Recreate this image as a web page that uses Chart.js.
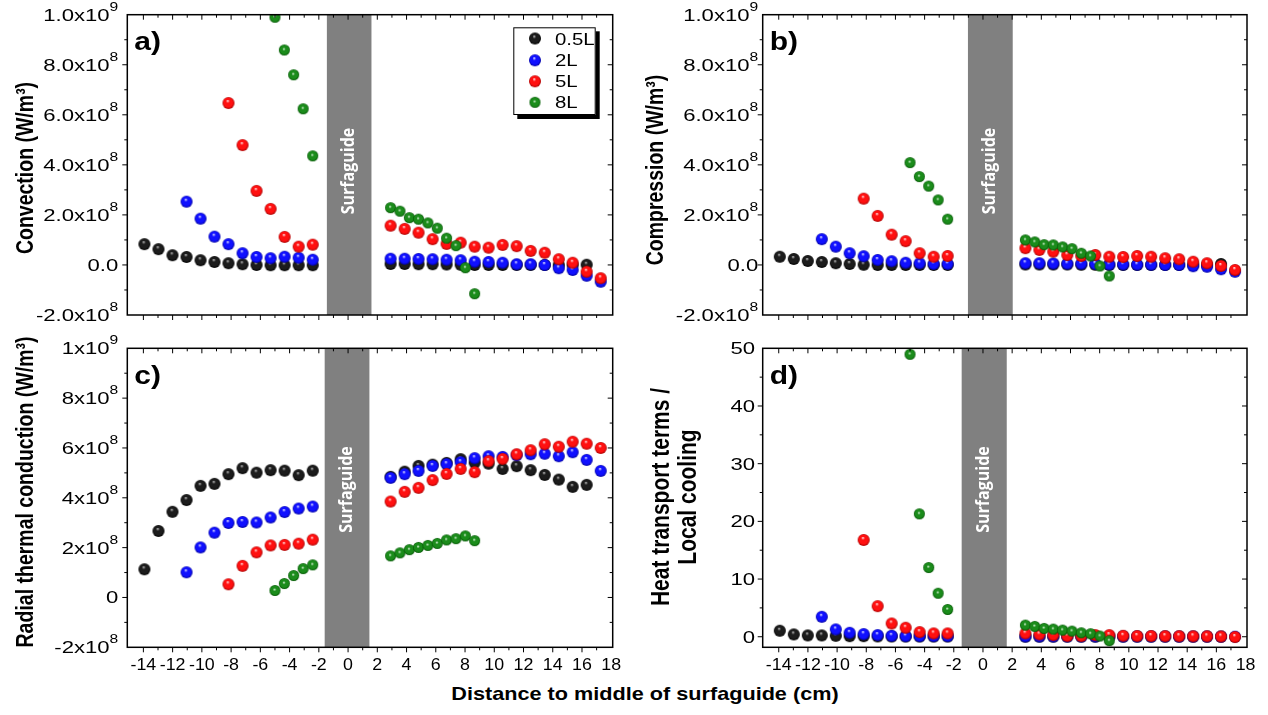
<!DOCTYPE html>
<html>
<head>
<meta charset="utf-8">
<script src="https://cdn.jsdelivr.net/npm/chart.js@4.4.1/dist/chart.umd.min.js"></script>
<style>
    html, body { margin: 0; padding: 0; background: #fff; }
    #wrap { position: relative; width: 1268px; height: 715px; overflow: hidden; }
    canvas { position: absolute; }
    #xtitle {
        position: absolute; left: 645px; top: 683px; line-height: 20px;
        font: bold 18.5px "Liberation Sans", Arial, sans-serif; white-space: nowrap;
        transform: translateX(-50%) scaleX(1.17);
    }
</style>
</head>
<body>
<div id="wrap">
    <canvas id="panelA" width="634" height="330" style="left:0;top:0"></canvas>
    <canvas id="panelB" width="634" height="330" style="left:634px;top:0"></canvas>
    <canvas id="panelC" width="634" height="350" style="left:0;top:330px"></canvas>
    <canvas id="panelD" width="634" height="350" style="left:634px;top:330px"></canvas>
    <div id="xtitle">Distance to middle of surfaguide (cm)</div>
</div>
<script>
// positions (cm) of the measurement points for each flow
const xBlack = [-13.93, -12.97, -12.01, -11.05, -10.09, -9.14, -8.18, -7.22, -6.26, -5.30, -4.34, -3.38, -2.42,
    2.91, 3.87, 4.82, 5.78, 6.74, 7.70, 8.66, 9.61, 10.57, 11.53, 12.49, 13.45, 14.41, 15.36, 16.32];
const xBlue = [-11.05, -10.09, -9.14, -8.18, -7.22, -6.26, -5.30, -4.34, -3.38, -2.42,
    2.91, 3.87, 4.82, 5.78, 6.74, 7.70, 8.66, 9.61, 10.57, 11.53, 12.49, 13.45, 14.41, 15.36, 16.32, 17.28];
const xRed = [-8.18, -7.22, -6.26, -5.30, -4.34, -3.38, -2.42,
    2.91, 3.87, 4.82, 5.78, 6.74, 7.70, 8.66, 9.61, 10.57, 11.53, 12.49, 13.45, 14.41, 15.36, 16.32, 17.28];
const xGreen = [-5.00, -4.36, -3.72, -3.07, -2.42,
    2.91, 3.55, 4.19, 4.82, 5.46, 6.10, 6.74, 7.38, 8.02, 8.66];

const seriesNames = ['0.5L', '2L', '5L', '8L'];

// a) convection
const convBlack = [8.3e7, 6.3e7, 3.9e7, 3.2e7, 1.9e7, 1.2e7, 7e6, 3e6, 0, -1e6, -1e6, -1e6, -1e6,
    4e6, 4e6, 3e6, 3e6, 2e6, 1e6, 0, 0, 0, 0, 0, 0, 0, 0, 1e6];
const convBlue = [2.53e8, 1.85e8, 1.13e8, 8.3e7, 4.7e7, 3.2e7, 2.7e7, 3.3e7, 2.9e7, 2.1e7,
    2.5e7, 2.5e7, 2.4e7, 2.3e7, 2.1e7, 1.9e7, 1.3e7, 1.2e7, 9e6, 3e6, 3e6, 0, -1.3e7, -2.0e7, -4.3e7, -6.7e7];
const convRed = [6.47e8, 4.79e8, 2.96e8, 2.24e8, 1.12e8, 7.3e7, 8.1e7,
    1.57e8, 1.44e8, 1.29e8, 1.03e8, 8.4e7, 8.9e7, 7.3e7, 6.9e7, 8.0e7, 7.5e7, 5.6e7, 4.9e7, 2.3e7, 9e6, -2.7e7, -5.3e7];
const convGreen = [9.9e8, 8.59e8, 7.6e8, 6.24e8, 4.36e8,
    2.29e8, 2.15e8, 1.89e8, 1.83e8, 1.68e8, 1.47e8, 1.07e8, 7.7e7, -1.1e7, -1.15e8];

// b) compression
const compBlack = [3.3e7, 2.4e7, 1.6e7, 1.2e7, 7e6, 4e6, 1e6, 0, 0, 0, 0, 0, 0,
    2e6, 2e6, 2e6, 2e6, 1e6, 1e6, 0, 0, 0, 0, 0, 0, 0, 0, 4e6];
const compBlue = [1.03e8, 7.3e7, 4.7e7, 3.5e7, 2.0e7, 1.5e7, 9e6, 7e6, 4e6, 4e6,
    7e6, 7e6, 6e6, 5e6, 5e6, 4e6, 2e6, 2e6, 1e6, 1e6, 0, 0, -5e6, -7e6, -1.7e7, -2.7e7];
const compRed = [2.65e8, 1.96e8, 1.21e8, 9.5e7, 4.7e7, 3.3e7, 3.6e7,
    6.7e7, 6.0e7, 5.3e7, 4.0e7, 3.6e7, 4.0e7, 3.3e7, 3.2e7, 3.6e7, 3.3e7, 2.7e7, 2.3e7, 1.3e7, 7e6, -4e6, -2.0e7];
const compGreen = [4.09e8, 3.53e8, 3.15e8, 2.6e8, 1.83e8,
    1.0e8, 9.2e7, 8.1e7, 8.0e7, 7.2e7, 6.5e7, 4.7e7, 3.6e7, -4e6, -4.4e7];

// c) radial thermal conduction
const condBlack = [1.13e8, 2.67e8, 3.44e8, 3.91e8, 4.48e8, 4.56e8, 4.95e8, 5.19e8, 5.01e8, 5.11e8, 5.09e8, 4.91e8, 5.09e8,
    4.84e8, 5.05e8, 5.28e8, 5.33e8, 5.40e8, 5.55e8, 5.41e8, 5.37e8, 5.16e8, 5.27e8, 5.11e8, 4.92e8, 4.73e8, 4.44e8, 4.52e8];
const condBlue = [1.01e8, 2.01e8, 2.60e8, 2.99e8, 3.03e8, 3.01e8, 3.21e8, 3.43e8, 3.57e8, 3.65e8,
    4.80e8, 4.95e8, 5.08e8, 5.28e8, 5.35e8, 5.43e8, 5.59e8, 5.67e8, 5.64e8, 5.71e8, 5.75e8, 5.77e8, 5.67e8, 5.83e8, 5.52e8, 5.08e8];
const condRed = [5.3e7, 1.27e8, 1.81e8, 2.09e8, 2.11e8, 2.16e8, 2.32e8,
    3.85e8, 4.24e8, 4.40e8, 4.71e8, 4.96e8, 5.16e8, 5.03e8, 5.47e8, 5.56e8, 5.75e8, 5.91e8, 6.15e8, 6.05e8, 6.25e8, 6.17e8, 6.00e8];
const condGreen = [2.8e7, 5.6e7, 8.8e7, 1.16e8, 1.31e8,
    1.67e8, 1.79e8, 1.92e8, 2.01e8, 2.09e8, 2.17e8, 2.31e8, 2.36e8, 2.47e8, 2.28e8];

// d) heat transport terms / local cooling
const ratioBlack = [1.04, 0.4, 0.23, 0.23, 0.17, 0.1, 0.1, 0.06, 0.05, 0.05, 0.05, 0.05, 0.05,
    0.03, 0.03, 0.03, 0.03, 0.03, 0.03, 0.03, 0.03, 0.03, 0.03, 0.03, 0.03, 0.03, 0.03, 0.03];
const ratioBlue = [3.46, 1.27, 0.69, 0.46, 0.29, 0.17, 0.1, 0.1, 0.1, 0.1,
    0.05, 0.05, 0.05, 0.05, 0.05, 0.05, 0.04, 0.04, 0.04, 0.04, 0.04, 0.03, 0.03, 0.03, 0.02, 0.0];
const ratioRed = [16.78, 5.3, 2.3, 1.56, 0.81, 0.58, 0.58,
    0.58, 0.4, 0.29, 0.12, 0.12, 0.29, 0.29, 0.17, 0.12, 0.12, 0.1, 0.1, 0.08, 0.08, 0.05, -0.05];
const ratioGreen = [48.96, 21.3, 12.0, 7.55, 4.73,
    2.02, 1.79, 1.44, 1.33, 1.15, 0.98, 0.69, 0.52, 0.12, -0.69];

// axes
const xTicks = [-14, -12, -10, -8, -6, -4, -2, 0, 2, 4, 6, 8, 10, 12, 14, 16, 18];
const yTicksSci = [-2e8, 0, 2e8, 4e8, 6e8, 8e8, 1e9];
const yLabelsAB = ['-2.0x10^8', '0.0', '2.0x10^8', '4.0x10^8', '6.0x10^8', '8.0x10^8', '1.0x10^9'];
const yLabelsC = ['-2x10^8', '0', '2x10^8', '4x10^8', '6x10^8', '8x10^8', '1x10^9'];
const yTicksD = [0, 10, 20, 30, 40, 50];
const yLabelsD = ['0', '10', '20', '30', '40', '50'];

const SX = 1.3;  // the original figure is stretched sideways
const FONT = '"Liberation Sans", Arial, sans-serif';

function sphere(r, hi, mid, dark, hx, hy) {
    const c = document.createElement('canvas');
    c.width = c.height = 2 * r + 2;
    const g = c.getContext('2d');
    const cx = r + 1, cy = r + 1;
    const grad = g.createRadialGradient(cx + hx * r, cy + hy * r, 0, cx, cy, r);
    grad.addColorStop(0, hi);
    grad.addColorStop(0.3, mid);
    grad.addColorStop(0.75, mid);
    grad.addColorStop(1, dark);
    g.fillStyle = grad;
    g.beginPath();
    g.arc(cx, cy, r, 0, Math.PI * 2);
    g.fill();
    return c;
}

const balls = [
    sphere(6, '#d0d0d0', '#1c1c1c', '#000000', -0.15, -0.4),
    sphere(6, '#ffffff', '#1010ff', '#0000a0', -0.15, -0.4),
    sphere(6, '#ffffff', '#ff1010', '#a80000', -0.15, -0.4),
    sphere(5.5, '#f0fff0', '#1b8c1b', '#005400', -0.1, -0.2)
];

function text(ctx, s, x, y, font, o = {}) {
    ctx.save();
    ctx.translate(x, y);
    ctx.scale(o.sx || SX, 1);
    if (o.rot) ctx.rotate(o.rot);
    ctx.font = font;
    ctx.textAlign = o.align || 'center';
    ctx.textBaseline = o.base || 'middle';
    ctx.fillStyle = o.color || '#000';
    ctx.fillText(s, 0, 0);
    ctx.restore();
}

// right aligned tick label, "^" starts the exponent
function sciLabel(ctx, str, right, y) {
    const [base, sup] = str.split('^');
    ctx.font = '17px ' + FONT;
    const bw = ctx.measureText(base).width * SX;
    let sw = 0;
    if (sup) {
        ctx.font = '12px ' + FONT;
        sw = ctx.measureText(sup).width * SX;
    }
    const x0 = right - bw - sw;
    text(ctx, base, x0, y + 6, '17px ' + FONT, { align: 'left', base: 'alphabetic' });
    if (sup) text(ctx, sup, x0 + bw, y - 4, '12px ' + FONT, { align: 'left', base: 'alphabetic' });
}

function midpoints(arr) {
    const out = [];
    for (let i = 0; i < arr.length - 1; i++) out.push((arr[i] + arr[i + 1]) / 2);
    return out;
}

const panelPlugin = {
    id: 'panelDecor',
    beforeDatasetsDraw(chart) {
        const p = chart.options.plugins.panelDecor;
        const { ctx, chartArea: a, scales: { x } } = chart;
        const x0 = x.getPixelForValue(p.band[0]);
        const x1 = x.getPixelForValue(p.band[1]);
        ctx.save();
        ctx.fillStyle = '#808080';
        ctx.fillRect(x0, a.top, x1 - x0, a.bottom - a.top);
        ctx.restore();
        text(ctx, 'Surfaguide', (x0 + x1) / 2, p.bandTextY, 'bold 16px "Open Sans", sans-serif',
            { rot: -Math.PI / 2, color: '#fff', sx: 1.1 });
    },
    afterDraw(chart) {
        const p = chart.options.plugins.panelDecor;
        const { ctx, chartArea: a, scales: { x, y } } = chart;
        ctx.save();
        ctx.strokeStyle = '#000';
        ctx.lineWidth = 1;
        ctx.beginPath();
        const xMinor = midpoints(xTicks).concat([xTicks[0] - 1]);
        const yMinor = midpoints(p.yTicks);
        const tickX = (v, len) => {
            const px = x.getPixelForValue(v);
            if (px < a.left + 2 || px > a.right - 2) return;
            ctx.moveTo(px, a.bottom); ctx.lineTo(px, a.bottom + len);
            ctx.moveTo(px, a.top); ctx.lineTo(px, a.top + len);
        };
        const tickY = (v, len) => {
            const py = y.getPixelForValue(v);
            if (py < a.top + 2 || py > a.bottom - 2) return;
            ctx.moveTo(a.left, py); ctx.lineTo(a.left - len, py);
            ctx.moveTo(a.right, py); ctx.lineTo(a.right - len, py);
        };
        xTicks.forEach(v => tickX(v, 5));
        xMinor.forEach(v => tickX(v, 3));
        p.yTicks.forEach(v => tickY(v, 5));
        yMinor.forEach(v => tickY(v, 3));
        ctx.stroke();
        ctx.lineWidth = 1.5;
        ctx.strokeRect(a.left, a.top, a.right - a.left, a.bottom - a.top);
        ctx.restore();

        p.yTicks.forEach((v, i) => sciLabel(ctx, p.yLabels[i], a.left - p.labelGap, y.getPixelForValue(v)));
        if (p.xLabels) {
            xTicks.forEach(v => text(ctx, String(v), x.getPixelForValue(v), a.bottom + 22.7,
                '16.5px ' + FONT, { base: 'alphabetic', sx: 1.08 }));
        }

        text(ctx, p.letter, a.left + 7, a.top + 35.5, 'bold 25px ' + FONT, { align: 'left', base: 'alphabetic', sx: 1.2 });

        p.yTitle.forEach((line, i) => text(ctx, line, p.yTitleX[i], p.yTitleY, 'bold ' + p.yTitleSize + 'px ' + FONT,
            { rot: -Math.PI / 2, sx: 1.25 }));

        if (p.legend) {
            const L = { x: 513.3, y: 27.3, w: 82.4, h: 87.7 };
            ctx.save();
            ctx.fillStyle = '#000';
            ctx.fillRect(L.x + 4, L.y + 4, L.w, L.h);
            ctx.fillStyle = '#fff';
            ctx.fillRect(L.x, L.y, L.w, L.h);
            ctx.lineWidth = 1;
            ctx.strokeRect(L.x + 0.5, L.y + 0.5, L.w - 1, L.h - 1);
            ctx.restore();
            const rows = [38.5, 60.3, 81.3, 102.3];
            seriesNames.forEach((name, i) => {
                const b = balls[i];
                ctx.drawImage(b, 535 - b.width / 2, rows[i] - b.height / 2);
                text(ctx, name, 555, rows[i] + 6, '17px ' + FONT, { align: 'left', base: 'alphabetic', sx: 1.2 });
            });
        }
    }
};

function pts(xs, ys) {
    return ys.map((v, i) => ({ x: xs[i], y: v }));
}

function makePanel(id, cfg) {
    const xs = [xBlack, xBlue, xRed, xGreen];
    const datasets = cfg.series.map((ys, i) => ({
        label: seriesNames[i],
        data: pts(xs[i], ys),
        pointStyle: balls[i],
        pointRadius: 6,
        order: 4 - i
    }));
    return new Chart(document.getElementById(id), {
        type: 'scatter',
        data: { datasets: datasets },
        options: {
            responsive: false,
            animation: false,
            events: [],
            layout: { padding: cfg.padding },
            scales: {
                x: { type: 'linear', display: false, min: -15.1, max: 18.1 },
                y: { type: 'linear', display: false, min: cfg.yMin, max: cfg.yMax }
            },
            plugins: {
                legend: { display: false },
                tooltip: { enabled: false },
                panelDecor: cfg.decor
            }
        },
        plugins: [panelPlugin]
    });
}

makePanel('panelA', {
    series: [convBlack, convBlue, convRed, convGreen],
    padding: { left: 127.3, right: 21.3, top: 14.7, bottom: 15 },
    yMin: -2e8, yMax: 1e9,
    decor: {
        band: [-1.45, 1.6], bandTextY: 171, letter: 'a)',
        yTicks: yTicksSci, yLabels: yLabelsAB, labelGap: 9, xLabels: false,
        yTitle: ['Convection (W/m³)'], yTitleX: [26], yTitleY: 168, yTitleSize: 19.5, legend: true
    }
});

makePanel('panelB', {
    series: [compBlack, compBlue, compRed, compGreen],
    padding: { left: 128.7, right: 21, top: 14.7, bottom: 15 },
    yMin: -2e8, yMax: 1e9,
    decor: {
        band: [-1.03, 2.04], bandTextY: 171, letter: 'b)',
        yTicks: yTicksSci, yLabels: yLabelsAB, labelGap: 4.5, xLabels: false,
        yTitle: ['Compression (W/m³)'], yTitleX: [22], yTitleY: 170, yTitleSize: 19.5, legend: false
    }
});

makePanel('panelC', {
    series: [condBlack, condBlue, condRed, condGreen],
    padding: { left: 127.3, right: 21.3, top: 18.3, bottom: 32.7 },
    yMin: -2e8, yMax: 1e9,
    decor: {
        band: [-1.6, 1.46], bandTextY: 159.5, letter: 'c)',
        yTicks: yTicksSci, yLabels: yLabelsC, labelGap: 9, xLabels: true,
        yTitle: ['Radial thermal conduction (W/m³)'], yTitleX: [26], yTitleY: 162, yTitleSize: 19.5, legend: false
    }
});

makePanel('panelD', {
    series: [ratioBlack, ratioBlue, ratioRed, ratioGreen],
    padding: { left: 128.7, right: 21, top: 18.3, bottom: 32.7 },
    yMin: -1.83, yMax: 50,
    decor: {
        band: [-1.46, 1.63], bandTextY: 159.5, letter: 'd)',
        yTicks: yTicksD, yLabels: yLabelsD, labelGap: 7.7, xLabels: true,
        yTitle: ['Heat transport terms /', 'Local cooling'], yTitleX: [28, 55], yTitleY: 167, yTitleSize: 21, legend: false
    }
});
</script>
</body>
</html>
